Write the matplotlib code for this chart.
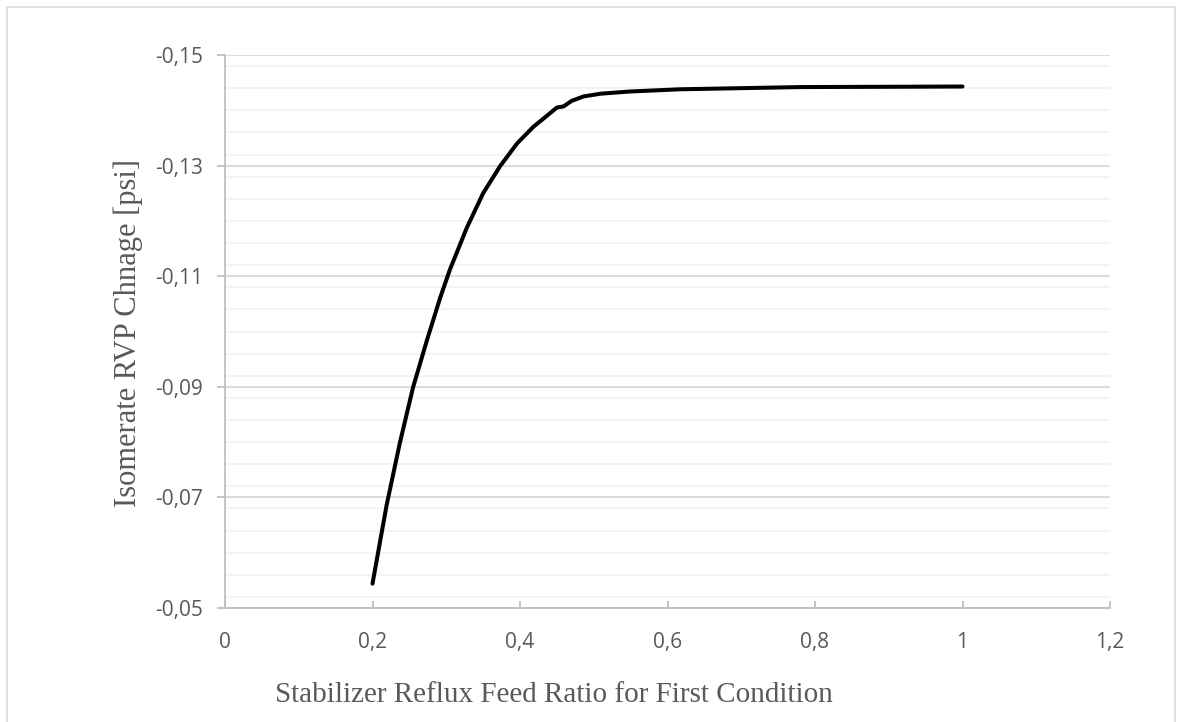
import matplotlib
matplotlib.use("Agg")
import matplotlib.pyplot as plt
from matplotlib.patches import Rectangle
from matplotlib.ticker import MultipleLocator, FuncFormatter

# Data
reflux_ratio = [0.200, 0.219, 0.237, 0.255, 0.274, 0.292, 0.305, 0.328, 0.350,
                0.373, 0.396, 0.418, 0.441, 0.450, 0.459, 0.470, 0.486, 0.509,
                0.549, 0.617, 0.780, 1.000]
rvp_change = [-0.0544, -0.0685, -0.0798, -0.0899, -0.0985, -0.1062, -0.1112,
              -0.1188, -0.1250, -0.1299, -0.1340, -0.1370, -0.1395, -0.1405,
              -0.1407, -0.1417, -0.1425, -0.1430, -0.1434, -0.1438, -0.1442,
              -0.1443]
x_ticks = [0, 0.2, 0.4, 0.6, 0.8, 1.0, 1.2]
y_ticks = [-0.15, -0.13, -0.11, -0.09, -0.07, -0.05]

W, H = 1177, 722
fig = plt.figure(figsize=(W / 100, H / 100), dpi=100)
fig.patch.set_facecolor("white")

# outer chart border
fig.add_artist(Rectangle((7 / W, -0.05), (1175 - 7) / W, 1.05 - 7 / H,
                         transform=fig.transFigure, fill=False,
                         edgecolor="#d9d9d9", linewidth=1.2))

left, right, top, bottom = 225, 1110, 55, 608
ax = fig.add_axes([left / W, 1 - bottom / H, (right - left) / W, (bottom - top) / H])

ax.plot(reflux_ratio, rvp_change, color="black", linewidth=2.9,
        solid_capstyle="round", solid_joinstyle="round", zorder=3)

ax.set_xlim(0, 1.2)
ax.set_ylim(-0.05, -0.15)  # inverted axis
ax.set_xticks(x_ticks)
ax.set_yticks(y_ticks)
ax.yaxis.set_minor_locator(MultipleLocator(0.004))

fmt = lambda v, p: ("%g" % round(v, 2)).replace(".", ",")
ax.xaxis.set_major_formatter(FuncFormatter(fmt))
ax.yaxis.set_major_formatter(FuncFormatter(lambda v, p: ("%.2f" % v).replace(".", ",")))

ax.grid(True, which="major", axis="y", color="#d9d9d9", linewidth=1.3, zorder=0)
ax.grid(True, which="minor", axis="y", color="#f2f2f2", linewidth=1.3, zorder=0)
ax.set_axisbelow(True)

for s in ["top", "right"]:
    ax.spines[s].set_visible(False)
for s in ["left", "bottom"]:
    ax.spines[s].set_color("#bfbfbf")
    ax.spines[s].set_linewidth(1.3)

ax.tick_params(axis="y", which="major", direction="out", length=6, width=1.3,
               color="#bfbfbf", labelsize=15, labelcolor="#595959", pad=10)
ax.tick_params(axis="y", which="minor", length=0)
ax.tick_params(axis="x", which="major", direction="in", length=5, width=1.3,
               color="#bfbfbf", labelsize=15, labelcolor="#595959", pad=17)
for lab in ax.get_xticklabels() + ax.get_yticklabels():
    lab.set_fontfamily("Open Sans")

fig.text(554 / W, 1 - 695 / H, "Stabilizer Reflux Feed Ratio for First Condition",
         ha="center", va="center", fontsize=21, color="#595959",
         family="Liberation Serif")
fig.text(128 / W, 1 - 333 / H, "Isomerate RVP Chnage [psi]", rotation=90,
         ha="center", va="center", fontsize=22, color="#595959",
         family="Liberation Serif")

fig.savefig("out.png", dpi=100, facecolor="white")
